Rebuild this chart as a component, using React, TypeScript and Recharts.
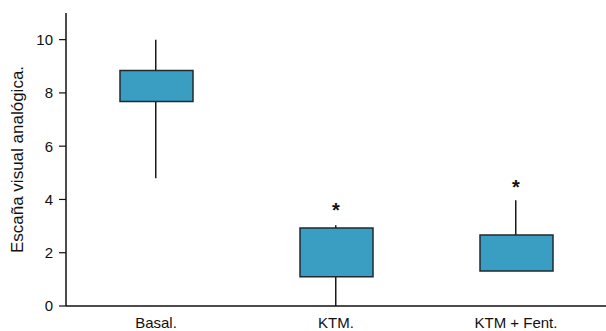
import { ComposedChart, Bar, XAxis, YAxis, Scatter } from "recharts";

const categories = ["Basal.", "KTM.", "KTM + Fent."];
const whiskerLow = [4.8, 0, 1.31];
const boxLow = [7.68, 1.1, 1.31];
const boxHigh = [8.84, 2.93, 2.67];
const whiskerHigh = [10, 3.03, 3.97];
const starAt: (number | null)[] = [null, 3.72, 4.57];
const yTicks = [0, 2, 4, 6, 8, 10];

const data = categories.map((name, i) => ({
  name,
  whisker: [whiskerLow[i], whiskerHigh[i]],
  box: [boxLow[i], boxHigh[i]],
  star: starAt[i],
}));

const font = "'Liberation Sans', Arial, Helvetica, sans-serif";

const Star = (props: { cx?: number; cy?: number; payload?: { star: number | null } }) => {
  const { cx, cy, payload } = props;
  if (payload?.star == null || cx == null || cy == null) return null;
  return (
    <text x={cx} y={cy + 10} textAnchor="middle" fontSize={20} fontWeight="bold" fill="#111" fontFamily={font}>
      *
    </text>
  );
};

export default function App() {
  return (
    <div>
      <style>{`body{margin:0}`}</style>
      <ComposedChart
        width={606}
        height={331}
        data={data}
        margin={{ top: 13, right: 0, left: 0, bottom: 0 }}
        style={{ fontFamily: font }}
      >
        <XAxis
          xAxisId="box"
          dataKey="name"
          type="category"
          height={25}
          tickLine={false}
          tickSize={0}
          tickMargin={11}
          axisLine={{ stroke: "#111", strokeWidth: 1.5 }}
          tick={{ fill: "#111", fontSize: 15 }}
        />
        <XAxis xAxisId="wh" dataKey="name" type="category" hide />
        <YAxis
          domain={[0, 11]}
          ticks={yTicks}
          width={66}
          tickSize={7}
          tickMargin={6}
          axisLine={{ stroke: "#111", strokeWidth: 1.5 }}
          tickLine={{ stroke: "#111", strokeWidth: 1.2 }}
          tick={{ fill: "#111", fontSize: 15 }}
          label={{
            value: "Escaña visual analógica.",
            angle: -90,
            position: "center",
            dx: -16,
            style: { textAnchor: "middle", fill: "#111", fontSize: 17 },
          }}
        />
        <Bar xAxisId="wh" dataKey="whisker" barSize={1.5} fill="#1a1a1a" isAnimationActive={false} />
        <Bar
          xAxisId="box"
          dataKey="box"
          barSize={73}
          fill="#3a9ec3"
          stroke="#1f2a30"
          strokeWidth={1.5}
          isAnimationActive={false}
        />
        <Scatter xAxisId="box" dataKey="star" shape={<Star />} isAnimationActive={false} />
      </ComposedChart>
    </div>
  );
}
